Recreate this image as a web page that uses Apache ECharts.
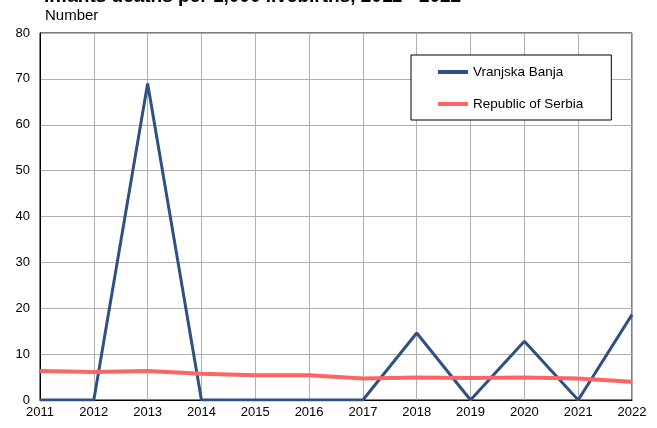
<!DOCTYPE html>
<html><head><meta charset="utf-8">
<script src="https://cdn.jsdelivr.net/npm/echarts@6/dist/echarts.min.js"></script>
<style>html,body{margin:0;padding:0;background:#fff}#c{width:657px;height:428px}</style>
</head><body><div id="c"></div>
<script>
const years = ['2011','2012','2013','2014','2015','2016','2017','2018','2019','2020','2021','2022'];
const vranjskaBanja = [0, 0, 69, 0, 0, 0, 0, 14.6, 0, 12.8, 0, 18.6];
const serbia = [6.3, 6.1, 6.3, 5.7, 5.4, 5.4, 4.7, 4.9, 4.8, 4.9, 4.7, 4.0];
const chart = echarts.init(document.getElementById('c'));
chart.setOption({
  animation: false,
  textStyle: {fontFamily: 'Liberation Sans, Arial, sans-serif'},
  title: [
    {text: 'Infants deaths per 1,000 livebirths, 2011 - 2022', left: 44, top: -13, padding: 0,
     textStyle: {fontSize: 19, fontWeight: 'bold', color: '#000', fontFamily: 'Liberation Sans'}},
    {text: 'Number', left: 45, top: 8, padding: 0,
     textStyle: {fontSize: 15, fontWeight: 'normal', color: '#000', fontFamily: 'Liberation Sans'}}
  ],
  grid: {left: 40, right: 25, top: 33, bottom: 28, show: true, borderColor: '#000', borderWidth: 1},
  legend: {
    orient: 'vertical', left: 411, top: 55,
    padding: [10, 28, 9, 27], itemGap: 18, itemWidth: 30, itemHeight: 4,
    borderColor: '#000', borderWidth: 1, backgroundColor: '#fff',
    textStyle: {fontSize: 13.5, color: '#000', fontFamily: 'Liberation Sans', lineHeight: 14},
    icon: 'rect'
  },
  xAxis: {
    type: 'category', data: years, boundaryGap: false,
    axisLine: {lineStyle: {color: '#000'}}, axisTick: {show: false},
    axisLabel: {color: '#000', fontSize: 13, margin: 6, interval: 0},
    splitLine: {show: true, lineStyle: {color: '#b0b0b0'}}
  },
  yAxis: {
    type: 'value', min: 0, max: 80, interval: 10,
    axisLine: {show: true, lineStyle: {color: '#000'}}, axisTick: {show: false},
    axisLabel: {color: '#000', fontSize: 13, margin: 10},
    splitLine: {lineStyle: {color: '#b0b0b0'}}
  },
  series: [
    {name: 'Vranjska Banja', type: 'line', data: vranjskaBanja, symbol: 'none',
     lineStyle: {color: '#2f5080', width: 3}, itemStyle: {color: '#2f5080'}},
    {name: 'Republic of Serbia', type: 'line', data: serbia, symbol: 'none',
     lineStyle: {color: '#ff6464', width: 4}, itemStyle: {color: '#ff6464'}}
  ]
});
</script></body></html>
